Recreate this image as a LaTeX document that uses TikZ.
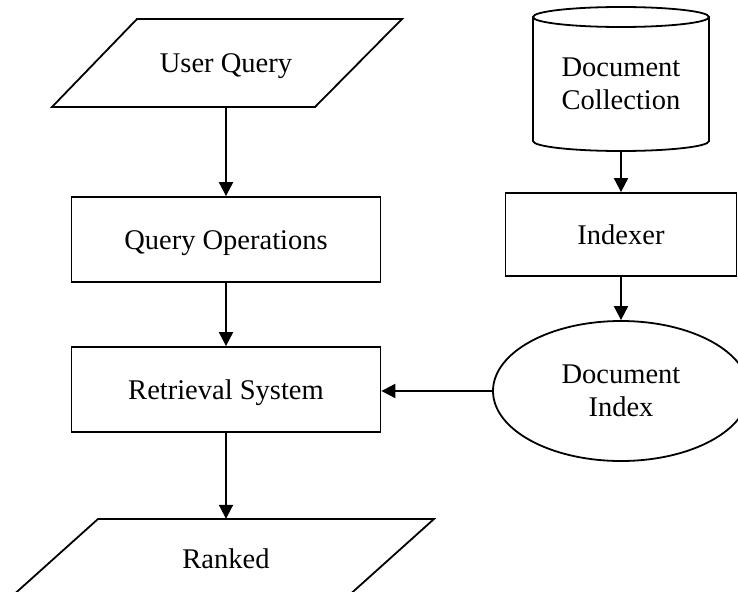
\documentclass[tikz,border=0pt]{standalone}
\usepackage{fontspec}
\setmainfont{Liberation Serif}
\usetikzlibrary{arrows.meta,shapes.geometric}
\begin{document}
\begin{tikzpicture}[x=1pt,y=-1pt,
  every node/.style={font=\fontsize{28.5pt}{33pt}\selectfont, inner sep=0pt},
  shapeline/.style={draw=black, line width=1.8pt, line join=miter},
  boxnode/.style={shapeline, rectangle},
  oneline/.style={text height=20pt, text depth=0pt},
  conn/.style={line width=2pt, -{Triangle[length=14pt,width=14pt]}}]
\useasboundingbox (0,0) rectangle (738,591);
\fill[white] (0,0) rectangle (738,591);
\clip (0,0) rectangle (738,591);
% User Query (parallelogram)
\draw[shapeline] (137,19) -- (402,19) -- (315,107) -- (52,107) -- cycle;
\node[oneline, minimum height=88pt, minimum width=180pt] (uq) at (226,63) {User Query};
% Query Operations
\node[boxnode, oneline, minimum width=309pt, minimum height=85pt] (qo) at (226,239.5) {Query Operations};
% Retrieval System
\node[boxnode, oneline, minimum width=309pt, minimum height=85pt] (rs) at (226,389.5) {Retrieval System};
% Ranked (parallelogram, cut by the page)
\draw[shapeline] (98,519) -- (434,519) -- (336,607) -- (0,607) -- cycle;
\node[oneline, minimum height=78pt, minimum width=180pt] (rk) at (226,558) {Ranked};
% Document Collection (cylinder)
\draw[shapeline] (533,17) -- (533,141) arc[start angle=180, end angle=360, x radius=88pt, y radius=10pt] -- (709,17);
\draw[shapeline] (621,17) ellipse [x radius=88pt, y radius=10pt];
\node[align=center, minimum width=176pt, minimum height=134pt] (dc) at (621,84) {Document\\Collection};
% Indexer
\node[boxnode, oneline, minimum width=231pt, minimum height=83pt] (ix) at (621,234.5) {Indexer};
% Document Index
\node[shapeline, ellipse, minimum width=256pt, minimum height=140pt, align=center] (di) at (621,391) {Document\\Index};
% connectors
\draw[conn] (uq.south) -- (qo.north);
\draw[conn] (qo.south) -- (rs.north);
\draw[conn] (rs.south) -- (rk.north);
\draw[conn] (dc.south) -- (ix.north);
\draw[conn] (ix.south) -- (di.north);
\draw[conn] (di.west) -- (di.west -| rs.east);
\end{tikzpicture}
\end{document}
